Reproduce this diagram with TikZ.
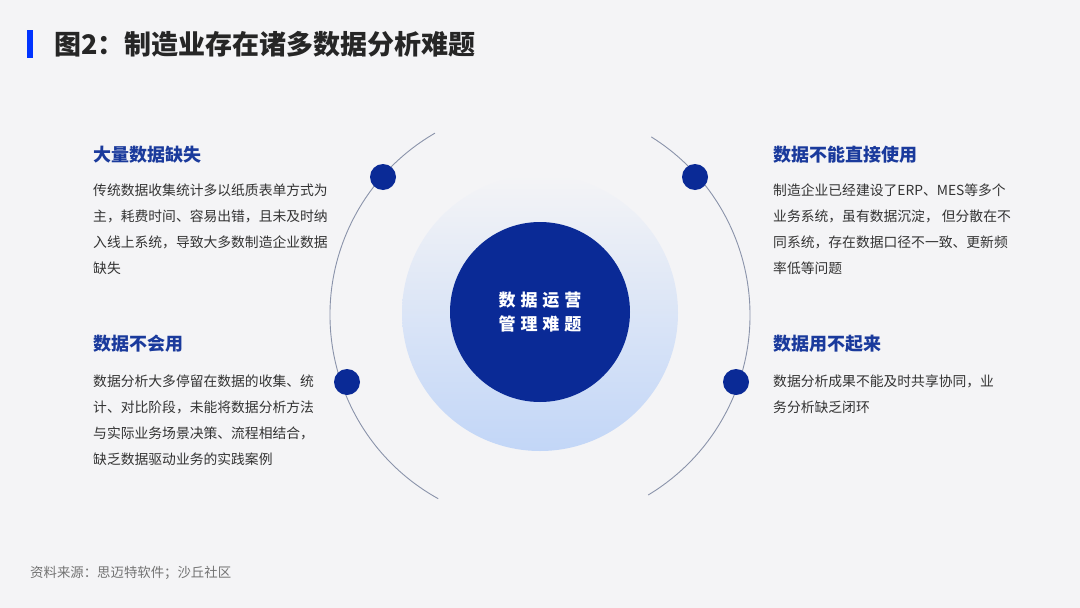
\documentclass[tikz,border=0pt]{standalone}
\usepackage{fontspec}
\setmainfont{Noto Sans CJK SC}
\definecolor{bg}{HTML}{F4F4F6}
\definecolor{navy}{HTML}{0A2A96}
\definecolor{headc}{HTML}{1A3A9C}
\definecolor{bodyc}{HTML}{333333}
\definecolor{lightb}{HTML}{C2D6F7}
\definecolor{arcc}{HTML}{8A93AA}
\begin{document}
\begin{tikzpicture}[x=1pt,y=-1pt,
  head/.style={anchor=west,text=headc,font=\fontsize{18}{21}\selectfont\bfseries,inner sep=0},
  body/.style={anchor=west,text=bodyc,font=\fontsize{13.8}{16}\selectfont,inner sep=0},
  dot/.style={circle,fill=navy,minimum size=26pt,inner sep=0}]
\fill[bg] (0,0) rectangle (1080,608);
\useasboundingbox (0,0) rectangle (1080,608);
\fill[blue!80!cyan] (27,30) rectangle (33,58);
\node[anchor=west,inner sep=0,font=\fontsize{27}{30}\selectfont\bfseries,text=black!85] (title) at (54,44) {图2：制造业存在诸多数据分析难题};
% arcs
\draw[arcc,line width=0.9pt] (540,315) ++(119:210) arc[start angle=119,end angle=240,radius=210];
\draw[arcc,line width=0.9pt] (540,315) ++(-58:210) arc[start angle=-58,end angle=59,radius=210];
% gradient circle
\shade[top color=bg,bottom color=lightb] (540,313) circle (138);
\node[circle,fill=navy,minimum size=180pt,inner sep=0] (core) at (540,312) {};
\node[text=white,align=center,font=\fontsize{17}{24}\selectfont\bfseries] (coretxt) at (540,312) {数\hspace{5pt}据\hspace{5pt}运\hspace{5pt}营\\管\hspace{5pt}理\hspace{5pt}难\hspace{5pt}题};
\node[dot] (d1) at (383,177) {};
\node[dot] (d2) at (695,177) {};
\node[dot] (d3) at (347,382) {};
\node[dot] (d4) at (736,382) {};
% left top
\node[head] (h1) at (93,155) {大量数据缺失};
\node[body] (b11) at (93,190) {传统数据收集统计多以纸质表单方式为};
\node[body] (b12) at (93,216) {主，耗费时间、容易出错，且未及时纳};
\node[body] (b13) at (93,242) {入线上系统，导致大多数制造企业数据};
\node[body] (b14) at (93,268) {缺失};
% left bottom
\node[head] (h3) at (93,344) {数据不会用};
\node[body] (b31) at (93,381) {数据分析大多停留在数据的收集、统};
\node[body] (b32) at (93,407) {计、对比阶段，未能将数据分析方法};
\node[body] (b33) at (93,433) {与实际业务场景决策、流程相结合，};
\node[body] (b34) at (93,459) {缺乏数据驱动业务的实践案例};
% right top
\node[head] (h2) at (773,155) {数据不能直接使用};
\node[body] (b21) at (773,190) {制造企业已经建设了ERP、MES等多个};
\node[body] (b22) at (773,216) {业务系统，虽有数据沉淀，\ 但分散在不};
\node[body] (b23) at (773,242) {同系统，存在数据口径不一致、更新频};
\node[body] (b24) at (773,268) {率低等问题};
% right bottom
\node[head] (h4) at (773,344) {数据用不起来};
\node[body] (b41) at (773,381) {数据分析成果不能及时共享协同，业};
\node[body] (b42) at (773,407) {务分析缺乏闭环};
\node[anchor=west,inner sep=0,text=black!55,font=\fontsize{13.4}{16}\selectfont] (src) at (30,573) {资料来源：思迈特软件；沙丘社区};
\end{tikzpicture}
\end{document}
